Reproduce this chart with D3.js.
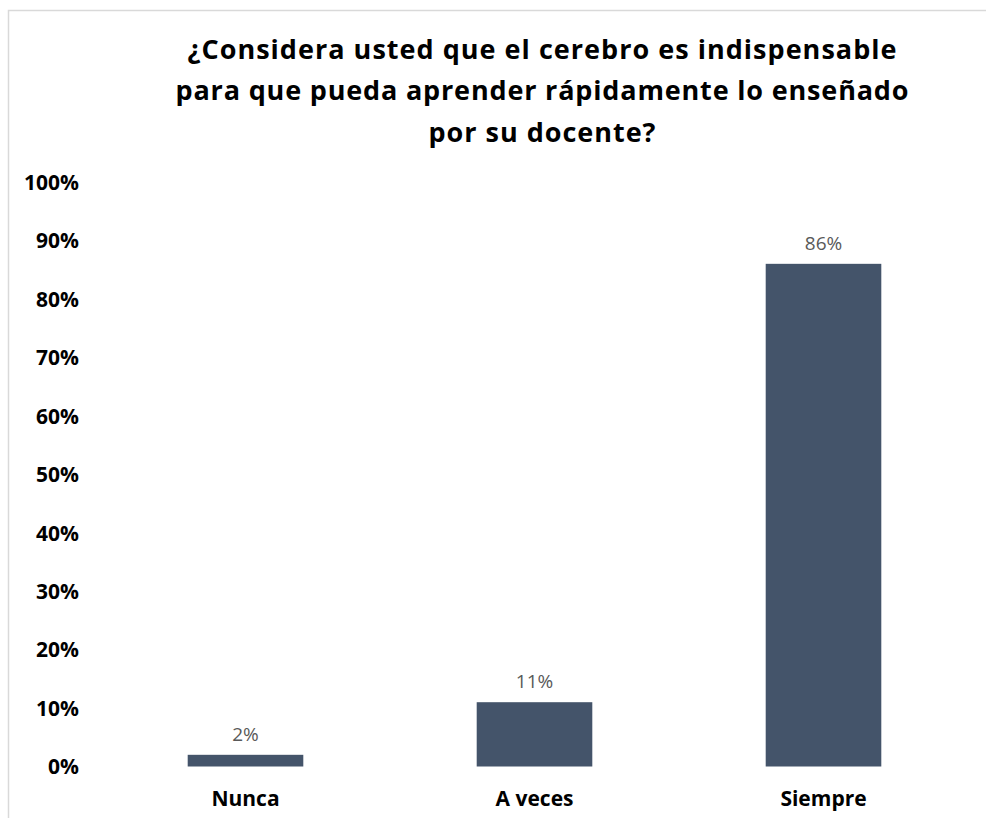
<!DOCTYPE html>
<html lang="es">
<head>
<meta charset="utf-8">
<script src="https://cdn.jsdelivr.net/npm/d3@7"></script>
<style>
  html, body { margin: 0; padding: 0; background: #ffffff; }
  svg { display: block; }
</style>
</head>
<body>
<svg id="chart" width="986" height="818"></svg>
<script>
// Survey answers (share of respondents)
const categories = ["Nunca", "A veces", "Siempre"];
const values = [2, 11, 86];
const yTicks = [0, 10, 20, 30, 40, 50, 60, 70, 80, 90, 100];
const titleLines = [
  "¿Considera usted que el cerebro es indispensable",
  "para que pueda aprender rápidamente lo enseñado",
  "por su docente?"
];

const svg = d3.select("#chart");
const FONT = "'Open Sans', 'Liberation Sans', sans-serif";

// Chart frame (light grey border)
svg.append("path")
  .attr("d", "M8.5,818 V10.5 H986")
  .attr("fill", "none")
  .attr("stroke", "#d9d9d9")
  .attr("stroke-width", 1.5);

// Title
const titleX = 542;
const titleBase = [59, 100, 142];
const titleWidths = [709, 733, 227];
svg.append("g")
  .selectAll("text")
  .data(titleLines)
  .join("text")
  .attr("x", titleX)
  .attr("y", (d, i) => titleBase[i])
  .attr("text-anchor", "middle")
  .attr("textLength", (d, i) => titleWidths[i])
  .attr("lengthAdjust", "spacing")
  .style("font-family", FONT)
  .style("font-weight", 700)
  .style("font-size", "27px")
  .style("fill", "#000")
  .text(d => d);

// Scales
const x = d3.scaleBand()
  .domain(categories)
  .range([101, 968])
  .paddingInner(0.6)
  .paddingOuter(0.3);

const y = d3.scaleLinear()
  .domain([0, 100])
  .range([766.5, 182]);

// Y axis: labels only
const yAxis = d3.axisLeft(y)
  .tickValues(yTicks)
  .tickFormat(d => d + "%")
  .tickSize(0)
  .tickPadding(0);

const gy = svg.append("g")
  .attr("transform", "translate(79,0)")
  .call(yAxis);
gy.select(".domain").remove();
gy.selectAll("text")
  .attr("dy", "0.35em")
  .style("font-family", FONT)
  .style("font-weight", 700)
  .style("font-size", "21px")
  .style("fill", "#000");

// X axis: category labels only
const xAxis = d3.axisBottom(x).tickSize(0).tickPadding(0);
const gx = svg.append("g")
  .attr("transform", "translate(0,799)")
  .call(xAxis);
gx.select(".domain").remove();
gx.selectAll("text")
  .attr("dy", "0.35em")
  .style("font-family", FONT)
  .style("font-weight", 700)
  .style("font-size", "21px")
  .style("fill", "#000");

// Bars
const data = categories.map((c, i) => ({ c, v: values[i] }));
svg.append("g")
  .selectAll("rect")
  .data(data)
  .join("rect")
  .attr("x", d => x(d.c))
  .attr("width", x.bandwidth())
  .attr("y", d => y(d.v))
  .attr("height", d => y(0) - y(d.v))
  .attr("fill", "#44546a");

// Value labels
svg.append("g")
  .selectAll("text")
  .data(data)
  .join("text")
  .attr("x", d => x(d.c) + x.bandwidth() / 2)
  .attr("y", d => y(d.v) - 14)
  .attr("text-anchor", "middle")
  .style("font-family", FONT)
  .style("font-size", "19px")
  .style("fill", "#595959")
  .text(d => d.v + "%");
</script>
</body>
</html>
